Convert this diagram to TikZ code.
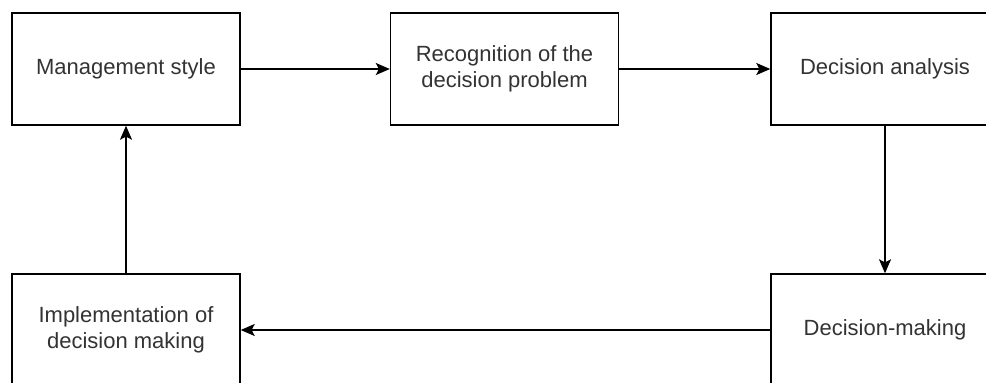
\documentclass[tikz,border=0pt]{standalone}
\usepackage{fontspec}
\setmainfont{Liberation Sans}
\usetikzlibrary{positioning}
\usetikzlibrary{arrows.meta}

\tikzset{
	stagebox/.style = {draw = black, line width = 1.4pt, fill = white, minimum width = 228pt, minimum height = 112pt, align = center, font = \fontsize{22}{26}\selectfont, text = black!80},
	flowarrow/.style = {black, line width = 1.4pt, -{Stealth[length = 14pt, width = 12pt, inset = 3pt]}}
}

\begin{document}
\begin{tikzpicture}[x = 1pt, y = -1pt]
					\useasboundingbox (0, 0) rectangle (986, 383);
					\clip (0, 0) rectangle (986, 383);
					\node [stagebox] (style) at (126, 69) {Management style};
					\node [stagebox] (recognition) at (504.5, 69) {Recognition of the\\decision problem};
					\node [stagebox] (analysis) at (885, 69) {Decision analysis};
					\node [stagebox] (making) at (885, 330) {Decision-making};
					\node [stagebox] (implementation) at (126, 330) {Implementation of\\decision making};
					\draw [flowarrow] (style) -- (recognition);
					\draw [flowarrow] (recognition) -- (analysis);
					\draw [flowarrow] (analysis) -- (making);
					\draw [flowarrow] (making) -- (implementation);
					\draw [flowarrow] (implementation) -- (style);
				\end{tikzpicture}
\end{document}
